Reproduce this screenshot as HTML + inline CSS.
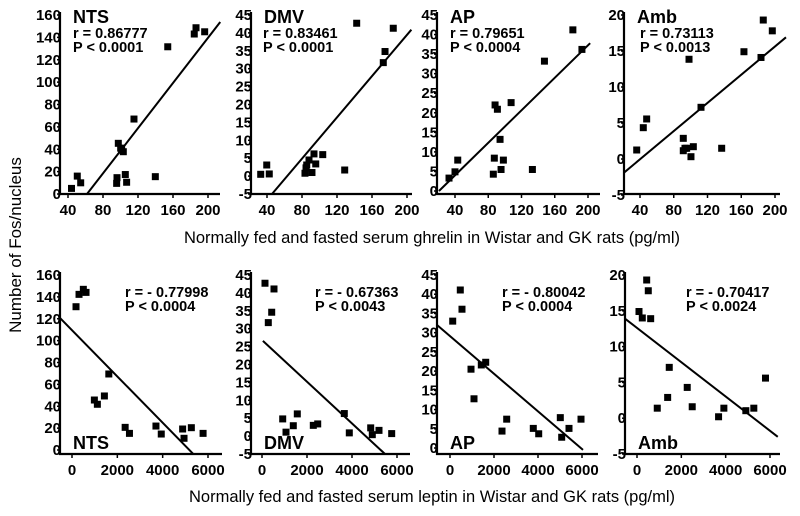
<!DOCTYPE html>
<html><head><meta charset="utf-8"><style>
html,body{margin:0;padding:0;background:#fff;}
svg{display:block;font-family:"Liberation Sans",Arial,sans-serif;}
</style></head><body>
<svg id="chart" width="800" height="516" viewBox="0 0 800 516" xmlns="http://www.w3.org/2000/svg">
<text x="0" y="0" transform="translate(21,245) rotate(-90)" text-anchor="middle" font-size="17">Number of Fos/nucleus</text>
<text x="432" y="243" text-anchor="middle" font-size="16.5">Normally fed and fasted serum ghrelin in Wistar and GK rats (pg/ml)</text>
<text x="432" y="502" text-anchor="middle" font-size="16.5">Normally fed and fasted serum leptin in Wistar and GK rats (pg/ml)</text>
</svg>
<script>
// ---- data ----
const panelNames = ["NTS","DMV","AP","Amb","NTS","DMV","AP","Amb"];
const rLabels = ["r = 0.86777","r = 0.83461","r = 0.79651","r = 0.73113","r = - 0.77998","r = - 0.67363","r = - 0.80042","r = - 0.70417"];
const pLabels = ["P < 0.0001","P < 0.0001","P < 0.0004","P < 0.0013","P < 0.0004","P < 0.0043","P < 0.0004","P < 0.0024"];
const ghrelinTicks = [40,80,120,160,200];
const leptinTicks = [0,2000,4000,6000];
const yTicksNTS = [0,20,40,60,80,100,120,140,160];
const yTicks45m5 = [-5,0,5,10,15,20,25,30,35,40,45];
const yTicksAP = [0,5,10,15,20,25,30,35,40,45];
const yTicksAmb = [-5,0,5,10,15,20];

const ntsGhrelinX = [44,50.6,54.5,95.6,96,97.5,100.2,101.3,103.2,105.5,107,115.4,139.8,154,184.3,186.3,196.2];
const ntsGhrelinY = [5,16,10,9.5,14.6,45.3,41,39.3,37.8,17.4,10.5,67,15.5,131.6,143,148.6,145];
const dmvGhrelinX = [32.8,39.7,42.6,83.4,84.6,85.4,88,91.4,93.7,95.7,103.7,128.8,142.5,172.9,174.9,184.3];
const dmvGhrelinY = [0.5,3.1,0.6,0.8,2.3,3.1,4.5,1,6.2,3.4,6,1.7,42.7,31.7,34.8,41.3];
const apGhrelinX = [32.8,40,43.3,86.1,87.3,88.2,91,94.2,95.4,98.2,107.5,133.1,147.6,181.8,192.7];
const apGhrelinY = [3.3,4.9,7.9,4.3,8.4,22,20.9,13.2,5.5,7.9,22.6,5.5,33.2,41.2,36.2];
const ambGhrelinX = [36.1,43.9,47.9,91.3,91.3,93.3,95.3,98.1,100.4,103.2,112.3,136.8,163.2,183.4,186.1,196.8];
const ambGhrelinY = [1.25,4.35,5.56,2.87,1.15,1.49,1.49,13.85,0.32,1.71,7.18,1.49,14.9,14.1,19.3,17.8];

const ntsLeptinX = [177,310,500,619,987,1119,1429,1624,2345,2535,3704,3938,4881,4942,5265,5783];
const ntsLeptinY = [131,142.3,146.9,144.1,45.7,41.8,49.4,69.5,20.7,15.2,21.9,14.6,19.2,10.7,20.4,15.2];
const dmvLeptinX = [133,280,431,533,920,1067,1391,1569,2280,2476,3658,3880,4831,4902,5200,5764];
const dmvLeptinY = [42.7,31.7,34.6,41.1,4.8,1.1,2.9,6.2,3,3.4,6.3,0.9,2.3,0.4,1.6,0.7];
const apLeptinX = [123,468,545,955,1091,1423,1623,2364,2577,3786,4032,5014,5077,5409,5955];
const apLeptinY = [33,41.1,36.1,20.5,12.8,21.6,22.3,4.4,7.5,5.1,3.7,7.9,2.8,5.1,7.5];
const ambLeptinX = [90,239,437,509,617,914,1455,1383,2266,2491,3680,3919,4910,5270,5797];
const ambLeptinY = [14.9,14,19.3,17.8,13.9,1.4,7.1,2.9,4.3,1.6,0.2,1.4,1.05,1.4,5.6];

// regression line endpoints [x1,y1,x2,y2] in data units
const fitLines = [
  [61.7,0,214,153.7],[45.7,-5,205,40.9],[20.7,0,202.6,37.8],[21,-1.9,213,16.9],
  [-531,120.7,5354,-3.7],[40,26.6,5467,-5],[-590,32,6045,-0.5],[-540,13.9,6350,-2.6]
];

// ---- layout (pixels) ----
const layout = [
 {ax:60,ar:220,top:12,bot:194,xa:40,xpa:68,xb:200,xpb:208,ya:0,ypa:194,yb:160,ypb:15,xt:ghrelinTicks,yt:yTicksNTS,xs:ntsGhrelinX,ys:ntsGhrelinY,nameY:23,rY:38,rX:73},
 {ax:251,ar:412,top:12,bot:194,xa:40,xpa:267,xb:200,xpb:407,ya:-5,ypa:194,yb:45,ypb:15,xt:ghrelinTicks,yt:yTicks45m5,xs:dmvGhrelinX,ys:dmvGhrelinY,nameY:23,rY:38,rX:263},
 {ax:437,ar:600,top:12,bot:194,xa:40,xpa:455,xb:200,xpb:588,ya:0,ypa:191,yb:45,ypb:15,xt:ghrelinTicks,yt:yTicksAP,xs:apGhrelinX,ys:apGhrelinY,nameY:23,rY:38,rX:450},
 {ax:624,ar:780,top:12,bot:194,xa:40,xpa:640,xb:200,xpb:775,ya:-5,ypa:195,yb:20,ypb:15,xt:ghrelinTicks,yt:yTicksAmb,xs:ambGhrelinX,ys:ambGhrelinY,nameY:23,rY:38,rX:640},
 {ax:60,ar:222,top:272,bot:454,xa:0,xpa:72,xb:6000,xpb:208,ya:0,ypa:450,yb:160,ypb:275,xt:leptinTicks,yt:yTicksNTS,xs:ntsLeptinX,ys:ntsLeptinY,nameY:449,rY:297,rX:125},
 {ax:251,ar:410,top:272,bot:454,xa:0,xpa:262,xb:6000,xpb:397,ya:-5,ypa:454,yb:45,ypb:275,xt:leptinTicks,yt:yTicks45m5,xs:dmvLeptinX,ys:dmvLeptinY,nameY:449,rY:297,rX:315},
 {ax:437,ar:598,top:272,bot:454,xa:0,xpa:450,xb:6000,xpb:582,ya:0,ypa:448,yb:45,ypb:275,xt:leptinTicks,yt:yTicksAP,xs:apLeptinX,ys:apLeptinY,nameY:449,rY:297,rX:502},
 {ax:625,ar:780,top:272,bot:454,xa:0,xpa:637,xb:6000,xpb:770,ya:-5,ypa:454,yb:20,ypb:275,xt:leptinTicks,yt:yTicksAmb,xs:ambLeptinX,ys:ambLeptinY,nameY:449,rY:297,rX:686}
];

const svg = document.getElementById('chart');
const NS = 'http://www.w3.org/2000/svg';
function mk(tag, attrs, parent){
  const e = document.createElementNS(NS, tag);
  for (const k in attrs) e.setAttribute(k, attrs[k]);
  parent.appendChild(e);
  return e;
}

layout.forEach((L, i) => {
  const sx = v => L.xpa + (v - L.xa) * (L.xpb - L.xpa) / (L.xb - L.xa);
  const sy = v => L.ypa + (v - L.ya) * (L.ypb - L.ypa) / (L.yb - L.ya);
  const g = mk('g', {}, svg);
  
  

  L.yt.forEach(t => {
    const y = sy(t);
    const tx = mk('text', {x:L.ax+1, y:y+5, 'text-anchor':'end','font-size':15,'font-weight':'bold'}, g);
    tx.textContent = t;
    
    
  });

  const yAxis = mk('line', {x1:L.ax, y1:L.top, x2:L.ax, y2:L.bot+1, stroke:'#000','stroke-width':2.2}, g);
  
  
  const xAxis = mk('line', {x1:L.ax-1, y1:L.bot, x2:L.ar, y2:L.bot, stroke:'#000','stroke-width':2.2}, g);
  
  

  L.yt.forEach(t => {
    const y = sy(t);
    mk('line', {x1:L.ax-3, y1:y, x2:L.ax, y2:y, stroke:'#000','stroke-width':1.5}, g);
  });
  L.xt.forEach(t => {
    const x = sx(t);
    mk('line', {x1:x, y1:L.bot, x2:x, y2:L.bot+4, stroke:'#000','stroke-width':1.5}, g);
    const tx = mk('text', {x:x, y:L.bot+21, 'text-anchor':'middle','font-size':15,'font-weight':'bold'}, g);
    tx.textContent = t;
    
    
  });

  const f = fitLines[i];
  const fl = mk('line', {x1:sx(f[0]), y1:sy(f[1]), x2:sx(f[2]), y2:sy(f[3]), stroke:'#000','stroke-width':2}, g);
  
  

  L.xs.forEach((xv, j) => {
    const p = mk('rect', {x:sx(xv)-3.5, y:sy(L.ys[j])-3.5, width:7, height:7, fill:'#000'}, g);
    
    
  });

  const nm = mk('text', {x:L.ax+13, y:L.nameY, 'font-size':18,'font-weight':'bold'}, g);
  nm.textContent = panelNames[i];
  
  

  const rt = mk('text', {x:L.rX, y:L.rY, 'font-size':14.5,'font-weight':'bold'}, g);
  rt.textContent = rLabels[i];
  
  
  const pt = mk('text', {x:L.rX, y:L.rY+14, 'font-size':14.5,'font-weight':'bold'}, g);
  pt.textContent = pLabels[i];
  
  
});
</script>
</body></html>
